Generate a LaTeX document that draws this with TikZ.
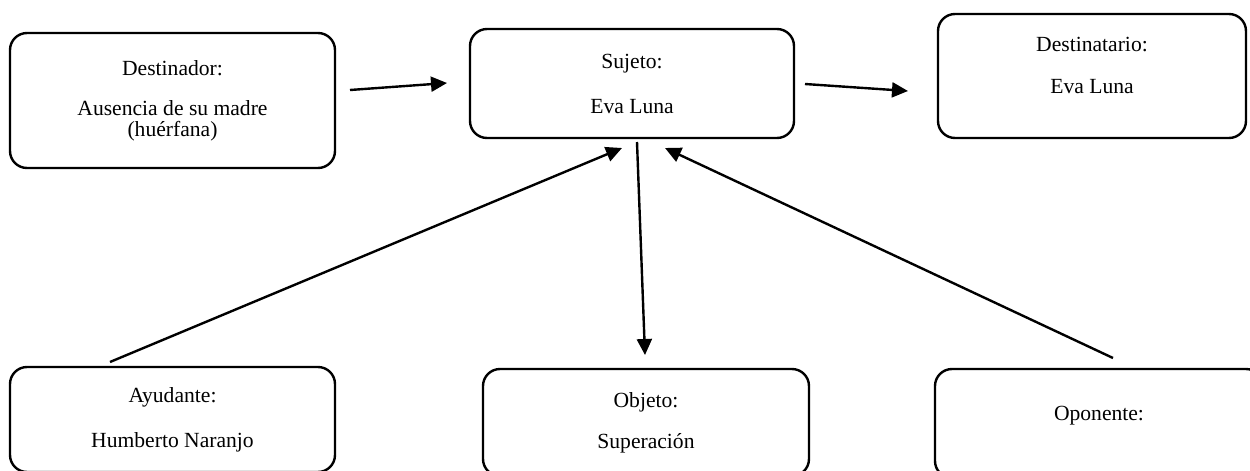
\documentclass[tikz,border=0pt]{standalone}
\usepackage{fontspec}
\setmainfont{Liberation Serif}
\usetikzlibrary{arrows.meta, positioning}

\begin{document}
\begin{tikzpicture} [
						x=0.5pt, y=-0.5pt,
						box/.style={draw, line width=1.2pt, rounded corners=8.5pt, align=center,
							font=\fontsize{10.8}{10.5}\selectfont},
						link/.style={-{Triangle[length=8pt, width=7.5pt]}, line width=1.2pt}
					]

\clip (0,0) rectangle (1250,471);

\node (destinador) [box, minimum width=162.5pt, minimum height=67.5pt] at (172.5,100.5)
	{Destinador:\\[9.5pt]Ausencia de su madre\\(huérfana)};
\node (sujeto) [box, minimum width=162pt, minimum height=54.5pt] at (632,83.5)
	{Sujeto:\\[12pt]Eva Luna};
\node (destinatario) [box, minimum width=154pt, minimum height=62pt] at (1092,76)
	{Destinatario:\\[10.5pt]Eva Luna\\ \mbox{}};
\node (ayudante) [box, minimum width=162.5pt, minimum height=52.5pt] at (172.5,419.5)
	{Ayudante:\\[12pt]Humberto Naranjo};
\node (objeto) [box, minimum width=163pt, minimum height=53.5pt] at (646,422.5)
	{Objeto:\\[10pt]Superación};
\node (oponente) [box, minimum width=164pt, minimum height=54.5pt] at (1099,423.5)
	{Oponente:\\ \mbox{}};

% free ends of the arrows
\coordinate (destinador-e) at (350,90);
\coordinate (sujeto-w) at (447,83);
\coordinate (sujeto-e) at (805,84);
\coordinate (destinatario-w) at (908,91);
\coordinate (ayudante-n) at (110,362);
\coordinate (sujeto-sw) at (622,148);
\coordinate (sujeto-s) at (637,142);
\coordinate (objeto-n) at (645,355);
\coordinate (oponente-n) at (1113,358);
\coordinate (sujeto-se) at (665,148);

\path[link]
	(destinador-e) edge (sujeto-w)
	(sujeto-e)     edge (destinatario-w)
	(ayudante-n)   edge (sujeto-sw)
	(sujeto-s)     edge (objeto-n)
	(oponente-n)   edge (sujeto-se);
\end{tikzpicture}
\end{document}
